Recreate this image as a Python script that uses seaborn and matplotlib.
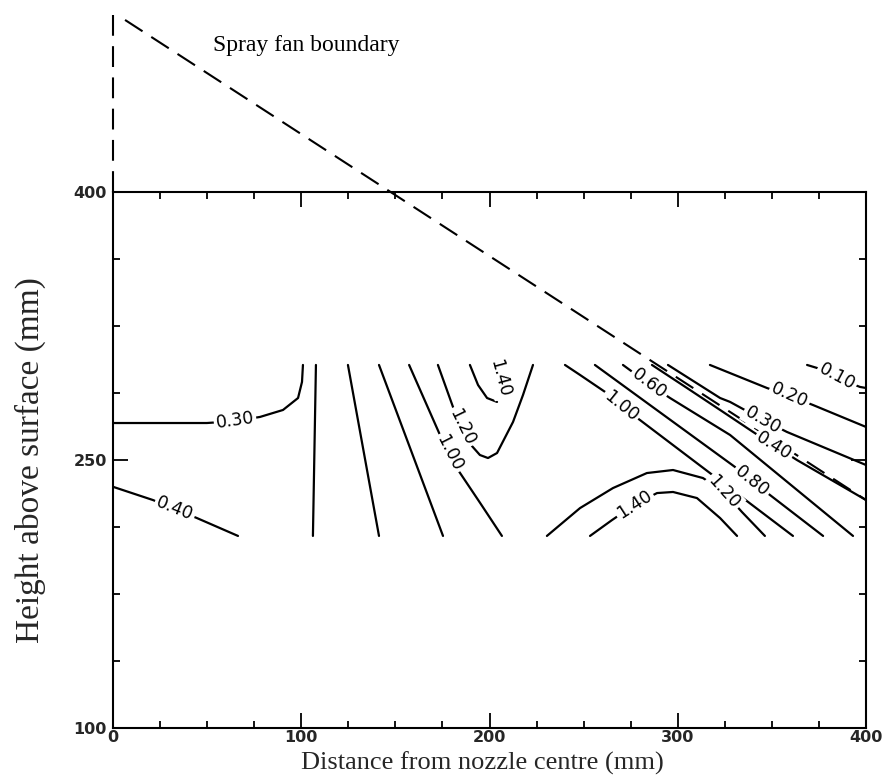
import numpy as np
import pandas as pd
import matplotlib
matplotlib.use("Agg")
import matplotlib.pyplot as plt
import seaborn as sns
from matplotlib.ticker import FixedLocator

# ---- contour lines of deposit (distance from nozzle centre, height above surface), mm ----
c030_left_x = [0, 49.9, 64.8, 78.1, 90.3, 98.3, 100.4, 100.9]
c030_left_y = [270.7, 270.7, 271.8, 274.1, 278.0, 284.7, 293.7, 303.2]
c040_left_x = [0, 21.2, 44.6, 66.4]
c040_left_y = [235.0, 227.6, 217.5, 207.5]

c_mid_a_x = [107.8, 106.2]
c_mid_a_y = [303.2, 207.5]
c_mid_b_x = [124.8, 141.3]
c_mid_b_y = [303.2, 207.5]
c_mid_c_x = [141.3, 175.3]
c_mid_c_y = [303.2, 207.5]
c100_mid_x = [157.3, 173.7, 178.5, 183.3, 195.0, 206.6]
c100_mid_y = [303.2, 264.0, 253.9, 244.4, 226.0, 207.5]
c120_mid_x = [172.6, 180.6, 185.4, 190.7, 194.9, 199.2, 204.0, 212.5, 217.8, 223.1]
c120_mid_y = [303.2, 279.7, 268.5, 257.8, 252.8, 251.1, 253.9, 271.3, 286.4, 303.2]
c140_mid_x = [189.6, 193.9, 198.7, 204.0]
c140_mid_y = [303.2, 292.0, 284.7, 282.5]

c100_right_x = [240.1, 248.1, 261.4, 269.9, 279.9, 361.2]
c100_right_y = [303.2, 297.6, 288.1, 280.2, 272.4, 207.5]
c080_x = [256.0, 330.4, 349.0, 377.2]
c080_y = [303.2, 246.1, 230.4, 207.5]
c060_x = [270.9, 284.7, 295.9, 327.8, 393.1]
c060_y = [303.2, 292.5, 284.7, 264.0, 207.5]
c040_right_x = [286.3, 304.9, 322.5, 340.0, 363.3, 400]
c040_right_y = [303.2, 290.3, 278.0, 265.7, 250.0, 227.6]
c030_right_x = [294.8, 322.5, 327.8, 345.3, 358.0, 400]
c030_right_y = [303.2, 284.7, 282.5, 272.4, 265.7, 247.2]
c020_x = [317.1, 347.4, 359.6, 371.8, 400]
c020_y = [303.2, 290.3, 285.8, 280.8, 268.5]
c010_x = [368.7, 374.0, 384.6, 396.8, 400]
c010_y = [303.2, 301.5, 295.9, 290.9, 290.3]
c120_right_x = [230.5, 248.1, 265.6, 283.6, 297.5, 313.4, 324.6, 334.1, 346.3]
c120_right_y = [207.5, 223.1, 234.3, 242.7, 244.4, 239.9, 232.1, 220.9, 207.5]
c140_right_x = [253.4, 265.1, 276.8, 289.0, 297.5, 310.2, 322.5, 331.5]
c140_right_y = [207.5, 216.4, 224.8, 231.5, 232.1, 228.7, 217.5, 207.5]

# contour level labels
label_text = ["0.30", "0.40", "1.00", "1.20", "1.40", "1.00", "0.60",
              "0.80", "0.30", "0.40", "0.20", "0.10", "1.20", "1.40"]
label_x = [64.8, 32.9, 178.5, 185.4, 205.6, 269.9, 284.7,
           339.4, 345.3, 351.1, 359.6, 384.6, 324.6, 276.8]
label_y = [272.4, 222.8, 253.9, 268.5, 295.9, 280.2, 292.5,
           238.2, 272.4, 257.8, 286.4, 296.5, 232.1, 225.4]
label_rot = [8, -22, -63, -64, -75, -39, -37,
             -39, -30, -32, -24, -28, -48, 33]

# spray fan boundary
fan_x = [6.4, 400]
fan_y = [496.3, 227.6]
edge_x = [0, 0]
edge_y = [400, 499]

x_major = [0, 100, 200, 300, 400]
y_major = [100, 250, 400]

pieces = {
    "c030_left": (c030_left_x, c030_left_y),
    "c040_left": (c040_left_x, c040_left_y),
    "c_mid_a": (c_mid_a_x, c_mid_a_y),
    "c_mid_b": (c_mid_b_x, c_mid_b_y),
    "c_mid_c": (c_mid_c_x, c_mid_c_y),
    "c100_mid": (c100_mid_x, c100_mid_y),
    "c120_mid": (c120_mid_x, c120_mid_y),
    "c140_mid": (c140_mid_x, c140_mid_y),
    "c100_right": (c100_right_x, c100_right_y),
    "c080": (c080_x, c080_y),
    "c060": (c060_x, c060_y),
    "c040_right": (c040_right_x, c040_right_y),
    "c030_right": (c030_right_x, c030_right_y),
    "c020": (c020_x, c020_y),
    "c010": (c010_x, c010_y),
    "c120_right": (c120_right_x, c120_right_y),
    "c140_right": (c140_right_x, c140_right_y),
}
rows = []
for name, (xs, ys) in pieces.items():
    for i, (xv, yv) in enumerate(zip(xs, ys)):
        rows.append({"piece": name, "order": i, "x": xv, "y": yv})
contours = pd.DataFrame(rows)

sns.set_style("ticks")
plt.rcParams["font.family"] = ["DejaVu Sans"]

fig = plt.figure(figsize=(8.86, 7.77), dpi=100)
ax = fig.add_axes([113 / 886, 1 - 728 / 777, 753 / 886, 536 / 777])

sns.lineplot(data=contours, x="x", y="y", units="piece", estimator=None,
             sort=False, color="black", linewidth=1.6, legend=False, ax=ax)

# fan boundary (dashed), running above the plotting area
for bx, by in ((fan_x, fan_y), (edge_x, edge_y)):
    sns.lineplot(x=bx, y=by, estimator=None, sort=False, color="black",
                 linewidth=1.5, linestyle=(0, (10, 5)), ax=ax)
    ax.lines[-1].set_clip_on(False)

for t, lx, ly, r in zip(label_text, label_x, label_y, label_rot):
    ax.text(lx, ly, t, rotation=r, ha="center", va="center",
            fontsize=12.5, color="black", rotation_mode="anchor",
            bbox=dict(boxstyle="square,pad=0.12", fc="white", ec="none"),
            zorder=5)

ax.text(53, 482, "Spray fan boundary", ha="left", va="center",
        fontsize=17, family="Liberation Serif", color="black")

ax.set_xlim(0, 400)
ax.set_ylim(100, 400)
ax.xaxis.set_major_locator(FixedLocator(x_major))
ax.xaxis.set_minor_locator(FixedLocator(np.arange(0, 401, 25)))
ax.yaxis.set_major_locator(FixedLocator(y_major))
ax.yaxis.set_minor_locator(FixedLocator(np.arange(100, 401, 37.5)))
ax.tick_params(which="both", direction="in", top=True, right=True,
               width=1.3, color="black")
ax.tick_params(which="major", length=11)
ax.tick_params(which="minor", length=5)
ax.tick_params(axis="y", which="major", pad=4.5)
ax.tick_params(axis="x", which="major", pad=1.5)
for lab in ax.get_xticklabels() + ax.get_yticklabels():
    lab.set_fontsize(11.5)
    lab.set_fontweight("bold")

for sp in ax.spines.values():
    sp.set_linewidth(1.5)
    sp.set_color("black")

ax.set_xlabel("Distance from nozzle centre (mm)", fontsize=19,
              family="Liberation Serif")
ax.set_ylabel("Height above surface (mm)", fontsize=24,
              family="Liberation Serif")
ax.xaxis.label.set_verticalalignment("center")
ax.yaxis.label.set_verticalalignment("center")
ax.xaxis.set_label_coords(0.491, -0.0653)
ax.yaxis.set_label_coords(-0.110, 0.5)

fig.savefig("out.png", dpi=100, facecolor="white")
